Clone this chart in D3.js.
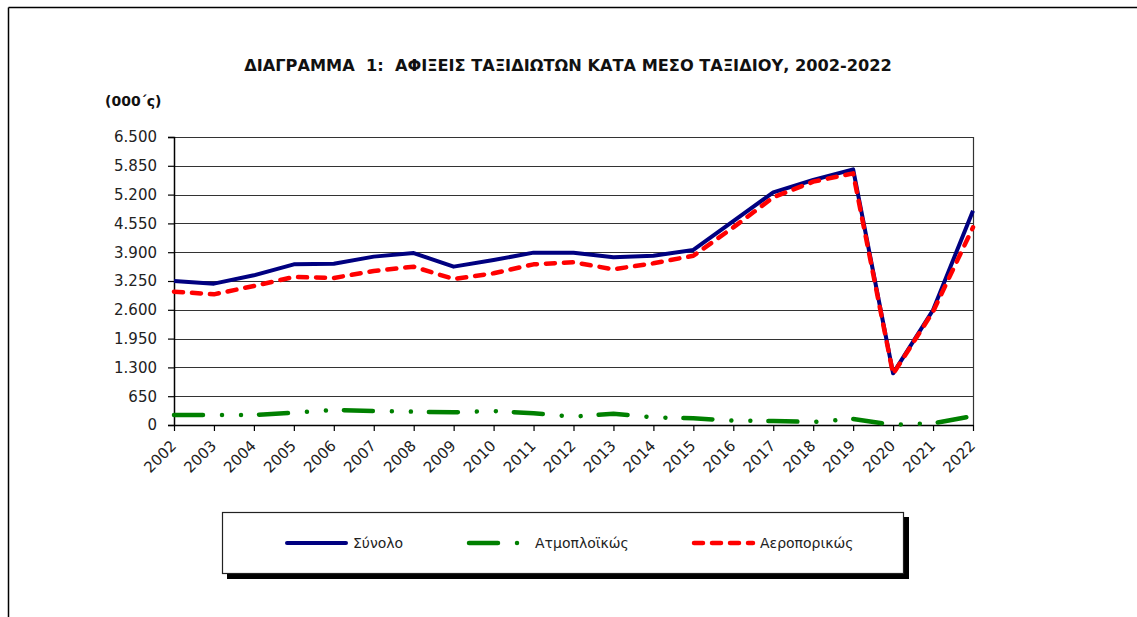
<!DOCTYPE html>
<html>
<head>
	<meta charset="UTF-8">
	<title>Διάγραμμα 1</title>
	<script src="https://cdn.jsdelivr.net/npm/d3@7"></script>
	<style>
		body {
			padding: 0;
			margin: 0;
			background: #fff;
		}
		text {
			font-family: "DejaVu Sans", Verdana, sans-serif;
			white-space: pre;
		}
	</style>
</head>
<body>
	<script>
		// data, in thousands of arrivals
		var years = [2002, 2003, 2004, 2005, 2006, 2007, 2008, 2009, 2010, 2011, 2012,
			2013, 2014, 2015, 2016, 2017, 2018, 2019, 2020, 2021, 2022];
		var total = [3250, 3190, 3378, 3626, 3641, 3800, 3880, 3574, 3724, 3890, 3890,
			3784, 3822, 3950, 4600, 5251, 5530, 5770, 1166, 2595, 4837];
		var sea = [226, 226, 226, 278, 339, 316, 301, 286, 316, 263, 188,
			256, 173, 150, 98, 90, 68, 135, 5, 38, 203];
		var air = [3010, 2949, 3137, 3340, 3318, 3476, 3573, 3295, 3424, 3626, 3672,
			3514, 3650, 3820, 4460, 5138, 5492, 5680, 1150, 2560, 4461];
		var yTicks = [0, 650, 1300, 1950, 2600, 3250, 3900, 4550, 5200, 5850, 6500];
		var seriesNames = ["Σύνολο", "Ατμοπλοϊκώς", "Αεροπορικώς"];

		var w = 1137,
			h = 617;
		// plot area (note: "top" is reserved on window, so use pl/pr/pt/pb)
		var pl = 174, pr = 973, pt = 137, pb = 425;

		var svg = d3.select("body").append("svg")
			.attr("width", w)
			.attr("height", h);

		// outer frame (only top & left visible)
		svg.append("line").attr("x1", 8.5).attr("y1", 7.5).attr("x2", w).attr("y2", 7.5)
			.attr("stroke", "#000").attr("stroke-width", 1.5);
		svg.append("line").attr("x1", 8.5).attr("y1", 7.5).attr("x2", 8.5).attr("y2", h)
			.attr("stroke", "#000").attr("stroke-width", 1.5);

		var x = d3.scaleLinear().domain([years[0], years[years.length - 1]]).range([pl, pr]);
		var y = d3.scaleLinear().domain([0, 6500]).range([pb, pt]);

		var loc = d3.formatLocale({ decimal: ",", thousands: ".", grouping: [3], currency: ["", "€"] });
		var fmt = loc.format(",d");

		// gridlines
		svg.append("g").selectAll("line").data(yTicks.filter(function (d) { return d > 0; }))
			.join("line")
			.attr("x1", pl).attr("x2", pr)
			.attr("y1", function (d) { return Math.round(y(d)) + 0.5; })
			.attr("y2", function (d) { return Math.round(y(d)) + 0.5; })
			.attr("stroke", "#333").attr("stroke-width", 1.2);

		// right border of plot
		svg.append("line").attr("x1", pr + 0.5).attr("x2", pr + 0.5)
			.attr("y1", pt).attr("y2", pb).attr("stroke", "#333").attr("stroke-width", 1.2);

		// y axis
		var yAxis = svg.append("g").attr("transform", "translate(" + pl + ",0)")
			.call(d3.axisLeft(y).tickValues(yTicks).tickFormat(fmt).tickSize(6).tickPadding(11));
		yAxis.select(".domain").attr("stroke", "#000").attr("stroke-width", 1.5);
		yAxis.selectAll(".tick line").attr("stroke", "#000").attr("stroke-width", 1.2);
		yAxis.selectAll("text").attr("font-size", 15).attr("fill", "#222")
			.style("font-family", "'DejaVu Sans', sans-serif");

		// x axis
		var xAxis = svg.append("g").attr("transform", "translate(0," + pb + ")")
			.call(d3.axisBottom(x).tickValues(years).tickFormat(d3.format("d")).tickSize(6).tickSizeOuter(0));
		xAxis.select(".domain").attr("stroke", "#000").attr("stroke-width", 1.5);
		xAxis.selectAll(".tick line").attr("stroke", "#000").attr("stroke-width", 1.2);
		xAxis.selectAll("text")
			.attr("font-size", 15).attr("fill", "#222")
			.style("font-family", "'DejaVu Sans', sans-serif")
			.attr("text-anchor", "end")
			.attr("y", 0).attr("dy", "0.35em")
			.attr("transform", "translate(-1,18) rotate(-45)");

		var line = d3.line()
			.x(function (d, i) { return x(years[i]); })
			.y(function (d) { return y(d); });

		var styles = [
			{ data: sea, color: "#008000", width: 4.5, dash: "29 19 0.01 19 0.01 18", cap: "round" },
			{ data: total, color: "#000080", width: 4, dash: null, cap: "butt" },
			{ data: air, color: "#ff0000", width: 4.5, dash: "9 9", cap: "round" }
		];

		styles.forEach(function (s) {
			svg.append("path")
				.attr("d", line(s.data))
				.attr("fill", "none")
				.attr("stroke", s.color)
				.attr("stroke-width", s.width)
				.attr("stroke-linejoin", "round")
				.attr("stroke-linecap", s.cap)
				.attr("stroke-dasharray", s.dash);
		});

		// title
		svg.append("text")
			.attr("x", 568).attr("y", 71)
			.attr("text-anchor", "middle")
			.attr("font-size", 16.2).attr("font-weight", "bold")
			.attr("fill", "#111")
			.text("ΔΙΑΓΡΑΜΜΑ  1:  ΑΦΙΞΕΙΣ ΤΑΞΙΔΙΩΤΩΝ ΚΑΤΑ ΜΕΣΟ ΤΑΞΙΔΙΟΥ, 2002-2022");

		svg.append("text")
			.attr("x", 105).attr("y", 106)
			.attr("font-size", 14).attr("font-weight", "bold")
			.attr("fill", "#111")
			.text("(000΄ς)");

		// legend
		var lg = svg.append("g");
		lg.append("rect").attr("x", 227).attr("y", 517).attr("width", 682).attr("height", 62)
			.attr("fill", "#000");
		lg.append("rect").attr("x", 222.5).attr("y", 512.5).attr("width", 681).attr("height", 61)
			.attr("fill", "#fff").attr("stroke", "#222").attr("stroke-width", 1.2);

		var legX = [285, 467, 692];
		var legendStyles = [styles[1], styles[0], styles[2]];
		legendStyles.forEach(function (s, i) {
			lg.append("line")
				.attr("x1", legX[i] + 2).attr("x2", legX[i] + 61)
				.attr("y1", 543).attr("y2", 543)
				.attr("stroke", s.color)
				.attr("stroke-width", s.width)
				.attr("stroke-linecap", "round")
				.attr("stroke-dasharray", s.dash);
			lg.append("text")
				.attr("x", i == 1 ? 535 : legX[i] + 68).attr("y", 548)
				.attr("font-size", 14).attr("fill", "#222")
				.text(seriesNames[i]);
		});
	</script>
</body>
</html>
